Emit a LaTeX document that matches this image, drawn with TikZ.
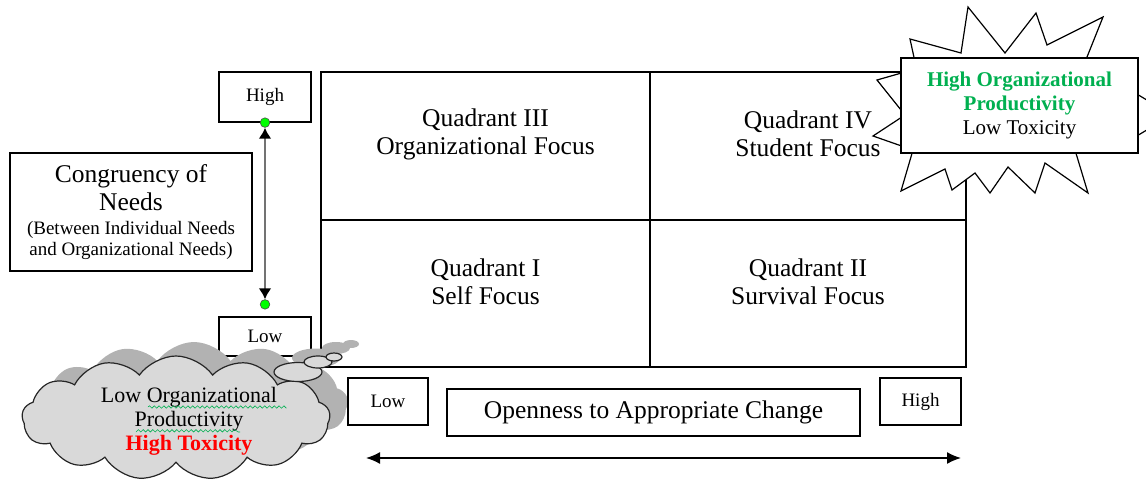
\documentclass[tikz,border=0pt]{standalone}
\usepackage{fontspec}
\setmainfont{Liberation Serif}
\usetikzlibrary{arrows.meta,positioning,shapes.symbols,shapes.geometric,decorations.pathmorphing}
\definecolor{prodgreen}{RGB}{0,176,80}
\definecolor{dotgreen}{RGB}{0,255,0}
\definecolor{cloudgray}{RGB}{217,217,217}
\definecolor{shadegray}{RGB}{178,178,178}
\tikzset{every picture/.style={
  >={Latex[length=7pt,width=6pt]}   % Solid LaTeX style arrows.
  }
}

\begin{document}
\begin{tikzpicture}[
    x=0.5pt, y=-0.5pt,
    quad/.style={               % The four quadrants of the grid.
      rectangle,
      draw,
      line width=0.7pt,
      outer sep=0pt,
      node distance=0pt
    },
    qtxt/.style={               % Captions inside the quadrants.
      align=center,
      inner sep=0pt,
      font=\fontsize{12.75}{14}\selectfont
    },
    lvl/.style={                % Small High / Low boxes.
      rectangle,
      draw,
      fill=white,
      line width=0.6pt,
      font=\fontsize{9.5}{11}\selectfont
    },
    cng/.style={                % Congruency of needs box.
      rectangle,
      draw,
      fill=white,
      line width=0.6pt,
      align=center,
      inner sep=0pt
    },
    gdot/.style={               % Green end points of the scale.
      circle,
      draw=black!70,
      fill=dotgreen,
      line width=0.3pt,
      minimum size=4.8pt,
      inner sep=0pt
    },
    cld/.style={                % Thought cloud.
      cloud,
      cloud puffs=13,
      cloud puff arc=110,
      aspect=2.5,
      draw=black!85,
      fill=cloudgray,
      line width=0.6pt,
      minimum width=154pt,
      minimum height=62pt,
      inner sep=0pt
    },
    tht/.style={                % Small thought bubbles.
      ellipse,
      draw=black!85,
      fill=cloudgray,
      line width=0.6pt,
      inner sep=0pt
    },
    shd/.style={                % Shadow behind the cloud.
      draw=none,
      fill=shadegray
    }]

    \useasboundingbox (0,0) rectangle (1146,482);
    \clip (0,0) rectangle (1146,482);

    % The grid of the four quadrants.
    \node[quad,minimum width=164.5pt,minimum height=74pt] (q3) at (485.5,146) {};
    \node[quad,minimum width=158pt,minimum height=74pt] (q4) [right=of q3] {};
    \node[quad,minimum width=164.5pt,minimum height=73.5pt] (q1) [below=of q3] {};
    \node[quad,minimum width=158pt,minimum height=73.5pt] (q2) [right=of q1] {};

    \node[qtxt] (t3) at ([yshift=-31pt] q3.north) {Quadrant III\\Organizational Focus};
    \node[qtxt] (t4) at ([yshift=-31pt] q4.north) {Quadrant IV\\Student Focus};
    \node[qtxt] (t1) at ([yshift=-31pt] q1.north) {Quadrant I\\Self Focus};
    \node[qtxt] (t2) at ([yshift=-31pt] q2.north) {Quadrant II\\Survival Focus};

    % Vertical scale: congruency of needs.
    \node[lvl,minimum width=46pt,minimum height=25pt] (hi) at (265,97) {High};
    \node[lvl,minimum width=46pt,minimum height=19.5pt] (lo) at (265,336.5) {Low};
    \node[cng,minimum width=121pt,minimum height=59pt,
      font=\fontsize{12.75}{14}\selectfont] (cong) at (131,212)
      {Congruency of\\
       Needs\\[-2pt]
       {\fontsize{9.5}{10.5}\selectfont (Between Individual Needs}\\[-3.5pt]
       {\fontsize{9.5}{10.5}\selectfont and Organizational Needs)}};
    \node[gdot] (dhi) at (hi.south) {};
    \node[gdot] (dlo) at ([yshift=6pt] lo.north) {};
    \draw[black!55,line width=1.1pt,
      {Latex[black,length=5.5pt,width=6.5pt]}-{Latex[black,length=5.5pt,width=6.5pt]}]
      (dhi) -- (dlo);

    % Starburst: high productivity, low toxicity.
    \draw[fill=white,line width=0.6pt] (915,62) -- (910,39) -- (961,53) -- (968,7)
      -- (1005,53) -- (1036,13) -- (1047,45) -- (1103,17) -- (1085,62)
      -- (1130,90) -- (1172,115) -- (1130,140) -- (1075,150) -- (1088,193)
      -- (1045,163) -- (1035,193) -- (1008,167) -- (990,193) -- (975,173)
      -- (952,190) -- (945,169) -- (901,191) -- (913,150) -- (873,136)
      -- (905,115) -- (877,80) -- (905,72) -- cycle;
    \node[cng,line width=0.9pt,minimum width=118.5pt,minimum height=47.5pt,
      font=\fontsize{10.5}{12}\selectfont] (burst) at (1019.5,105.5)
      {\textbf{\color{prodgreen}High Organizational}\\
       \textbf{\color{prodgreen}Productivity}\\
       Low Toxicity};

    % Thought cloud: low productivity, high toxicity.
    \node[cld,shd] (cldshd) at (194,404) {};
    \node[tht,shd,minimum width=24pt,minimum height=9.5pt] (th1shd) at (316,358) {};
    \node[tht,shd,minimum width=14pt,minimum height=6pt] (th2shd) at (336,348) {};
    \node[tht,shd,minimum width=8pt,minimum height=4pt] (th3shd) at (351,344) {};
    \node[cld] (cld) at (176,418) {};
    \node[tht,minimum width=24pt,minimum height=9.5pt] (th1) at (298,372) {};
    \node[tht,minimum width=14pt,minimum height=6pt] (th2) at (318,362) {};
    \node[tht,minimum width=8pt,minimum height=4pt] (th3) at (334,357) {};
    \node[qtxt,font=\fontsize{11}{12}\selectfont] (cldtxt)
      at ([xshift=6.5pt,yshift=-1.5pt] cld.center)
      {Low Organizational\\Productivity\\\textbf{\color{red}High Toxicity}};
    \draw[prodgreen,line width=0.3pt,
      decorate,decoration={snake,amplitude=0.6pt,segment length=2.4pt}]
      (148,407) -- (284,407) (136,432) -- (240,432);

    % Horizontal scale: openness to change.
    \node[lvl,minimum width=40pt,minimum height=23.5pt] (lochg) at (388,401.5) {Low};
    \node[lvl,minimum width=40.5pt,minimum height=23.5pt] (hichg) at (920.5,401.5) {High};
    \node[lvl,minimum width=206.5pt,minimum height=23.5pt,
      font=\fontsize{12.75}{14}\selectfont] (open) at (653.5,412.5)
      {Openness to Appropriate Change};
    \coordinate (al) at (366,458);
    \coordinate (ar) at (961,458);
    \draw[<->,line width=0.8pt] (al) -- (ar);
  \end{tikzpicture}
\end{document}
